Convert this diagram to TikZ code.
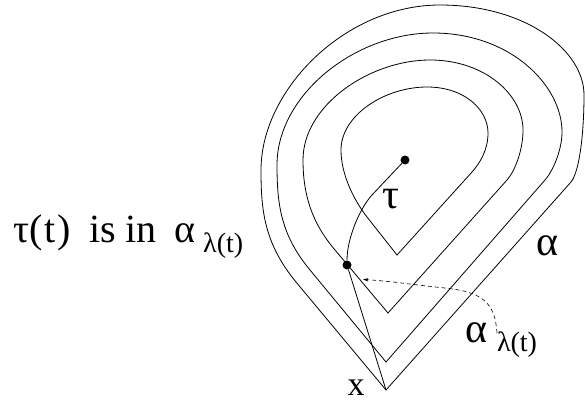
\documentclass[tikz,border=0pt]{standalone}
\usepackage{fontspec}
\setmainfont{Liberation Serif}
\usepackage{tikz}

\tikzset{
  curveline/.style={line width=0.8pt},
  blob/.style={circle, fill=black, inner sep=0pt, minimum size=9pt},
  bigtext/.style={font=\fontsize{42}{46}\selectfont, inner sep=0pt},
  subtext/.style={font=\fontsize{28}{32}\selectfont, inner sep=0pt},
}

\begin{document}
\begin{tikzpicture}[x=1pt, y=-1pt]
  \useasboundingbox (0,0) rectangle (585,404);

  % Tips of the four nested curves
  \coordinate (v1) at (397,255);
  \coordinate (v2) at (388,313);
  \coordinate (v3) at (386,362);
  \coordinate (v4) at (386,390);

  % The nested curves, innermost first
  \draw[curveline] (v1) -- (367,217) .. controls (354.5,201) and (341,175) .. (341,150)
    .. controls (341,115) and (385,87) .. (427,87)
    .. controls (465,87) and (488,110) .. (488,133)
    .. controls (488,150) and (480,163) .. (472,172) -- cycle;
  \draw[curveline] (v2) -- (335,250) .. controls (312,223) and (303,195) .. (303,160)
    .. controls (303,105) and (370,60) .. (430,60)
    .. controls (485,60) and (523,95) .. (523,130)
    .. controls (523,150) and (515,171) .. (507,180) -- cycle;
  \draw[curveline] (v3) -- (310,270) .. controls (281,235) and (277,205) .. (277,165)
    .. controls (277,95) and (355,33) .. (433,33)
    .. controls (510,33) and (562,85) .. (562,132)
    .. controls (562,150) and (553,171) .. (545,180) -- cycle;
  \draw[curveline] (v4) -- (296,282) .. controls (264,243) and (261,210) .. (261,170)
    .. controls (261,90) and (345,5) .. (440,5)
    .. controls (525,5) and (584,50) .. (584,95)
    .. controls (584,130) and (580,171) .. (571,182) -- cycle;

  % The path tau and its end points
  \node[blob] (top) at (405,160) {};
  \node[blob] (low) at (347,265) {};
  \draw[curveline] (top) -- (372,195) .. controls (360,208) and (347,238) .. (low);
  \draw[curveline] (low) -- (v4);

  % Dashed pointer from the label
  \coordinate (dstart) at (497,333);
  \coordinate (tip) at (363,279.5);
  \draw[dash pattern=on 4pt off 3pt, -latex, line width=0.6pt] (dstart) .. controls (495,302) and (482,292) .. (445,288)
    .. controls (415,285) and (390,281) .. (tip);

  % Labels
  \node[bigtext, font=\fontsize{40}{44}\selectfont, anchor=base west] (claim) at (13,242)
    {τ(\kern2pt t\kern2pt)\hspace{8pt} is in\hspace{8pt} α};
  \node[subtext, anchor=base west] (claimsub) at (203,252) {λ(t)};
  \node[bigtext] (tau) at (391,199) {τ};
  \node[bigtext] (alpha) at (547,246) {α};
  \node[bigtext] (alphasub) at (476,333) {α};
  \node[subtext] (lam) at (517,345) {λ(t)};
  \node[bigtext, font=\fontsize{34}{38}\selectfont] (xlabel) at (356,388) {x};

\end{tikzpicture}
\end{document}
